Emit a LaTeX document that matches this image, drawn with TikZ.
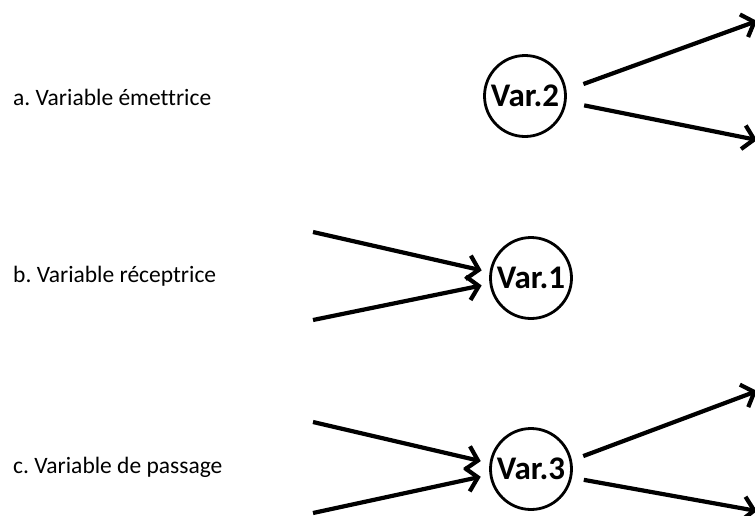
\documentclass[tikz,border=0pt]{standalone}
\usepackage{fontspec}
\setmainfont{Carlito}[Ligatures={NoCommon}]
\usetikzlibrary{arrows.meta}
\frenchspacing
\begin{document}
\begin{tikzpicture}[x=1pt,y=-1pt,
  varnode/.style={circle,draw,line width=2.8pt,minimum size=81pt,inner sep=0pt,font=\fontsize{33}{35}\selectfont\bfseries},
  lbl/.style={anchor=base west,inner sep=0pt,font=\fontsize{23.5}{25}\selectfont},
  arr/.style={line width=4.2pt,-{Straight Barb[length=11pt,width=24pt]}}]
\useasboundingbox (0,0) rectangle (755,515);
% labels
\node[lbl] (la) at (13,105) {a. Variable émettrice};
\node[lbl] (lb) at (13,282) {b. Variable réceptrice};
\node[lbl] (lc) at (13,473) {c. Variable de passage};
% circles
\node[varnode] (v2) at (525,96) {Var.2};
\node[varnode] (v1) at (531,278) {Var.1};
\node[varnode] (v3) at (531,469) {Var.3};
% free ends
\coordinate (o2a) at (757,21);
\coordinate (o2b) at (757,140);
\coordinate (i1a) at (313,232);
\coordinate (i1b) at (313,320);
\coordinate (i3a) at (313,422);
\coordinate (i3b) at (313,513);
\coordinate (o3a) at (757,391);
\coordinate (o3b) at (757,511);
% connectors
\draw[arr,shorten <=18pt] (v2.8) -- (o2a);
\draw[arr,shorten <=18pt] (v2.-8) -- (o2b);
\draw[arr,shorten >=8pt] (i1a) -- (v1.172);
\draw[arr,shorten >=8pt] (i1b) -- (v1.188);
\draw[arr,shorten >=9pt] (i3a) -- (v3.172);
\draw[arr,shorten >=9pt] (i3b) -- (v3.188);
\draw[arr,shorten <=12pt] (v3.12) -- (o3a);
\draw[arr,shorten <=12pt] (v3.-12) -- (o3b);
\end{tikzpicture}
\end{document}
